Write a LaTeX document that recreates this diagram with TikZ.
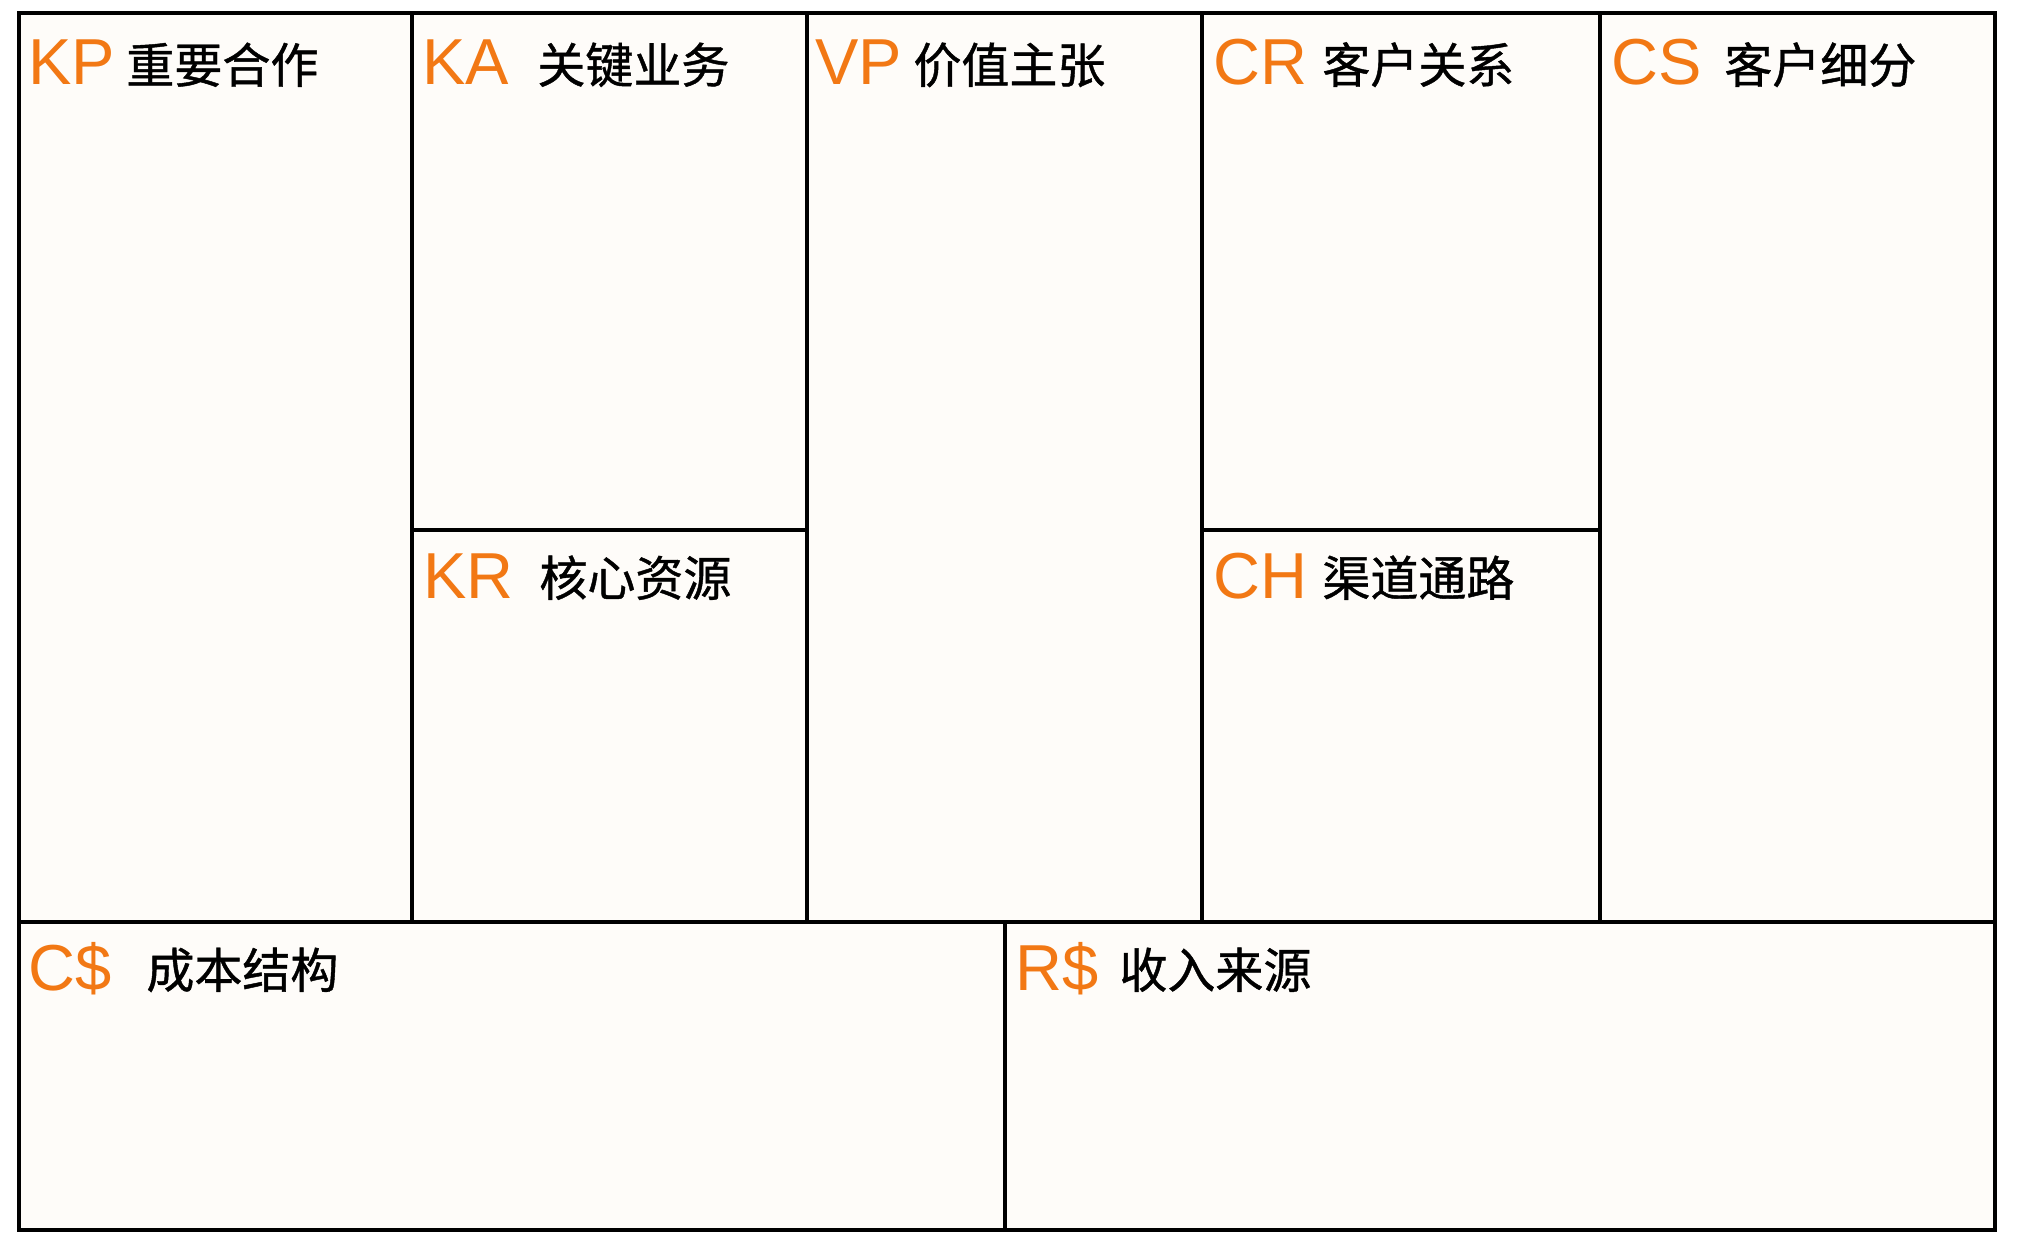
\documentclass[tikz,border=0pt]{standalone}
\usepackage{fontspec}
\setmainfont{Liberation Sans}
\newfontfamily\cjk[FakeBold=0.9]{Noto Sans CJK SC}
\definecolor{bmcorange}{RGB}{242,120,20}
\definecolor{bmcfill}{RGB}{254,252,249}
\begin{document}
\begin{tikzpicture}[x=0.5pt,y=-0.5pt,
  grid/.style={draw=black,line width=1.9pt},
  code/.style={anchor=base west,inner sep=0pt,text=bmcorange,font=\fontsize{32.5}{32.5}\selectfont},
  title/.style={anchor=base west,inner sep=0pt,text=black,font=\cjk\fontsize{24}{24}\selectfont}]
\useasboundingbox[fill=white] (0,0) rectangle (2018,1252);
\fill[bmcfill] (19,13) rectangle (1995,1230);
% cells
\draw[grid] (19,13) rectangle (412,922);
\draw[grid] (412,13) rectangle (807,530);
\draw[grid] (412,530) rectangle (807,922);
\draw[grid] (807,13) rectangle (1202,922);
\draw[grid] (1202,13) rectangle (1600,530);
\draw[grid] (1202,530) rectangle (1600,922);
\draw[grid] (1600,13) rectangle (1995,922);
\draw[grid] (19,922) rectangle (1005,1230);
\draw[grid] (1005,922) rectangle (1995,1230);
% labels
\node[code] (kpc) at (28,85) {KP};
\node[title] (kpt) at (126,83) {重要合作};
\node[code] (kac) at (422,85) {KA};
\node[title] (kat) at (537,83) {关键业务};
\node[code] (vpc) at (815,85) {VP};
\node[title] (vpt) at (913,83) {价值主张};
\node[code] (crc) at (1213,85) {CR};
\node[title] (crt) at (1322,83) {客户关系};
\node[code] (csc) at (1611,85) {CS};
\node[title] (cst) at (1724,83) {客户细分};
\node[code] (krc) at (423,598) {KR};
\node[title] (krt) at (539,596) {核心资源};
\node[code] (chc) at (1213,598) {CH};
\node[title] (cht) at (1322,596) {渠道通路};
\node[code] (csd) at (28,990) {C\$};
\node[title] (cst2) at (146,988) {成本结构};
\node[code] (rsd) at (1015,990) {R\$};
\node[title] (rst) at (1119,988) {收入来源};
\end{tikzpicture}
\end{document}
